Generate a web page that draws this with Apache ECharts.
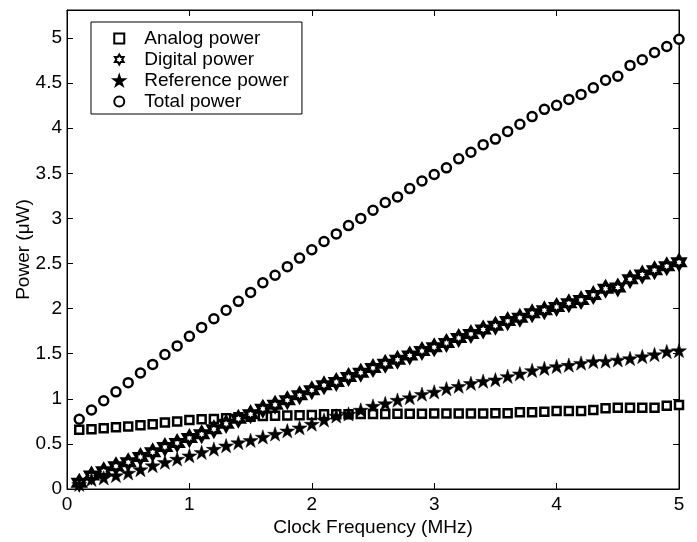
<!DOCTYPE html>
<html>
<head>
<meta charset="utf-8">
<script src="https://cdn.jsdelivr.net/npm/echarts@6/dist/echarts.min.js"></script>
<style>
  html, body { margin: 0; padding: 0; background: #fff; }
  #chart { width: 697px; height: 542px; }
</style>
</head>
<body>
<div id="chart"></div>
<script>
// Clock frequency sweep (MHz)
const freq = [0.1, 0.2, 0.3, 0.4, 0.5, 0.6, 0.7, 0.8, 0.9, 1.0,
              1.1, 1.2, 1.3, 1.4, 1.5, 1.6, 1.7, 1.8, 1.9, 2.0,
              2.1, 2.2, 2.3, 2.4, 2.5, 2.6, 2.7, 2.8, 2.9, 3.0,
              3.1, 3.2, 3.3, 3.4, 3.5, 3.6, 3.7, 3.8, 3.9, 4.0,
              4.1, 4.2, 4.3, 4.4, 4.5, 4.6, 4.7, 4.8, 4.9, 5.0];

// Power consumption (µW)
const analogPower = [0.656, 0.663, 0.674, 0.685, 0.692, 0.707, 0.718, 0.736, 0.747, 0.766,
                     0.773, 0.777, 0.784, 0.795, 0.802, 0.808, 0.812, 0.815, 0.818, 0.820,
                     0.828, 0.830, 0.830, 0.832, 0.832, 0.832, 0.834, 0.834, 0.834, 0.836,
                     0.836, 0.838, 0.838, 0.838, 0.839, 0.839, 0.850, 0.850, 0.857, 0.864,
                     0.864, 0.864, 0.875, 0.894, 0.901, 0.901, 0.901, 0.901, 0.923, 0.930];

const digitalPower = [0.070, 0.150, 0.198, 0.253, 0.297, 0.355, 0.407, 0.465, 0.509, 0.564,
                      0.608, 0.663, 0.722, 0.778, 0.830, 0.890, 0.934, 0.985, 1.040, 1.095,
                      1.150, 1.187, 1.242, 1.289, 1.341, 1.388, 1.432, 1.480, 1.531, 1.571,
                      1.619, 1.674, 1.718, 1.769, 1.810, 1.861, 1.898, 1.948, 1.981, 2.018,
                      2.059, 2.095, 2.150, 2.220, 2.234, 2.326, 2.377, 2.425, 2.469, 2.513];

const referencePower = [0.052, 0.107, 0.124, 0.150, 0.179, 0.216, 0.260, 0.297, 0.333, 0.370,
                        0.407, 0.443, 0.480, 0.515, 0.540, 0.577, 0.610, 0.646, 0.680, 0.720,
                        0.766, 0.810, 0.832, 0.876, 0.920, 0.948, 0.986, 1.014, 1.052, 1.077,
                        1.113, 1.140, 1.172, 1.196, 1.212, 1.249, 1.278, 1.315, 1.337, 1.359,
                        1.374, 1.396, 1.414, 1.418, 1.432, 1.447, 1.469, 1.491, 1.524, 1.535];

const totalPower = [0.773, 0.876, 0.978, 1.077, 1.179, 1.286, 1.381, 1.491, 1.586, 1.692,
                    1.791, 1.887, 1.981, 2.080, 2.179, 2.286, 2.370, 2.465, 2.560, 2.652,
                    2.744, 2.828, 2.920, 3.000, 3.090, 3.176, 3.238, 3.330, 3.414, 3.487,
                    3.560, 3.660, 3.733, 3.817, 3.879, 3.964, 4.044, 4.128, 4.209, 4.253,
                    4.319, 4.374, 4.447, 4.531, 4.575, 4.696, 4.758, 4.839, 4.905, 4.986];

const seriesNames = ['Analog power', 'Digital power', 'Reference power', 'Total power'];
const xTicks = [0, 1, 2, 3, 4, 5];
const yTicks = [0, 0.5, 1, 1.5, 2, 2.5, 3, 3.5, 4, 4.5, 5];

// Marker shapes
const square = 'path://M0 0 L10 0 L10 10 L0 10 Z';
const pentagram = 'path://M50 0 L61.2 34.5 L97.6 34.5 L68.2 55.9 L79.4 90.5 L50 69.1 L20.6 90.5 L31.8 55.9 L2.4 34.5 L38.8 34.5 Z';
const hexagram = 'path://M50 0 L64.4 25 L93.3 25 L78.9 50 L93.3 75 L64.4 75 L50 100 L35.6 75 L6.7 75 L21.1 50 L6.7 25 L35.6 25 Z';

const pairs = vals => freq.map((f, i) => [f, vals[i]]);

const FONT = 'Liberation Sans, Arial, Helvetica, sans-serif';
const FS = 19;

const chart = echarts.init(document.getElementById('chart'), null, { renderer: 'canvas' });

const axisCommon = {
  axisLine: { show: true, onZero: false, lineStyle: { color: '#000', width: 1 } },
  axisTick: { show: true, inside: true, length: 6, lineStyle: { color: '#000', width: 1 } },
  splitLine: { show: false }
};

chart.setOption({
  animation: false,
  backgroundColor: '#fff',
  textStyle: { fontFamily: FONT },
  grid: { left: 67, right: 18, top: 10, bottom: 49, show: true, borderColor: '#000', borderWidth: 1, containLabel: false },
  legend: {
    data: seriesNames,
    orient: 'vertical',
    left: 91,
    top: 22,
    itemWidth: 40,
    itemHeight: 10,
    itemGap: 2,
    padding: [7, 13, 3, 22],
    borderColor: '#000',
    borderWidth: 1,
    backgroundColor: '#fff',
    symbolKeepAspect: true,
    textStyle: { fontSize: FS, lineHeight: 14, color: '#000', fontFamily: FONT },
    selectedMode: false
  },
  xAxis: [
    Object.assign({}, axisCommon, {
      type: 'value', min: 0, max: 5, interval: 1, position: 'bottom',
      name: 'Clock Frequency (MHz)', nameLocation: 'middle', nameGap: 29, nameMoveOverlap: false,
      nameTextStyle: { fontSize: FS, color: '#000', fontFamily: FONT },
      axisLabel: { fontSize: FS, color: '#000', margin: 6, fontFamily: FONT,
        formatter: v => xTicks.indexOf(v) >= 0 ? String(v) : '' }
    }),
    Object.assign({}, axisCommon, {
      type: 'value', min: 0, max: 5, interval: 1, position: 'top',
      axisLabel: { show: false }
    })
  ],
  yAxis: [
    Object.assign({}, axisCommon, {
      type: 'value', min: 0, max: 5.31, interval: 0.5, position: 'left',
      name: 'Power (\u03BCW)', nameLocation: 'middle', nameGap: 34, nameMoveOverlap: false,
      nameTextStyle: { fontSize: FS, color: '#000', fontFamily: FONT },
      axisLabel: { fontSize: FS, color: '#000', margin: 5, fontFamily: FONT, showMaxLabel: false,
        formatter: v => yTicks.indexOf(v) >= 0 ? String(v) : '' }
    }),
    Object.assign({}, axisCommon, {
      type: 'value', min: 0, max: 5.31, interval: 0.5, position: 'right',
      axisLabel: { show: false }
    })
  ],
  series: [
    {
      name: seriesNames[0], type: 'scatter', data: pairs(analogPower),
      symbol: square, symbolSize: 8, symbolKeepAspect: true,
      itemStyle: { color: '#fff', borderColor: '#000', borderWidth: 2.5, opacity: 1 }
    },
    {
      name: seriesNames[1], type: 'scatter', data: pairs(digitalPower),
      symbol: hexagram, symbolSize: 13, symbolKeepAspect: true,
      itemStyle: { color: '#fff', borderColor: '#000', borderWidth: 3.5, opacity: 1 }
    },
    {
      name: seriesNames[2], type: 'scatter', data: pairs(referencePower),
      symbol: pentagram, symbolSize: 15, symbolKeepAspect: true,
      itemStyle: { color: '#000', borderColor: '#000', borderWidth: 0.5, opacity: 1 }
    },
    {
      name: seriesNames[3], type: 'scatter', data: pairs(totalPower),
      symbol: 'circle', symbolSize: 9,
      itemStyle: { color: '#fff', borderColor: '#000', borderWidth: 2.5, opacity: 1 }
    }
  ]
});
</script>
</body>
</html>
